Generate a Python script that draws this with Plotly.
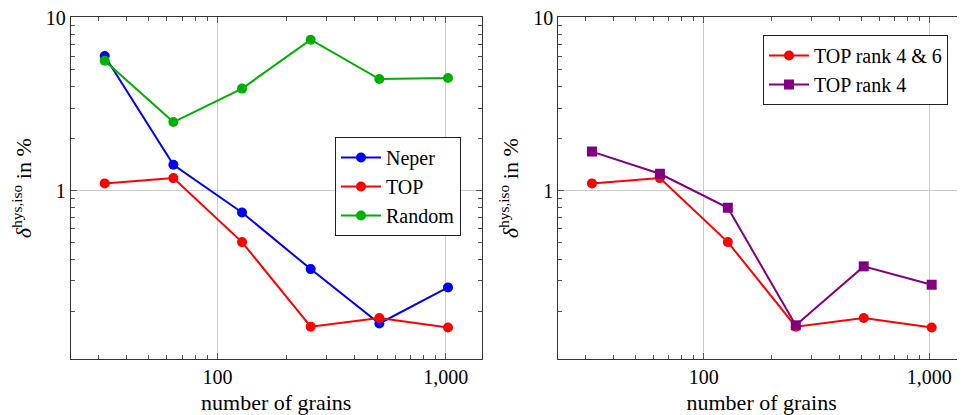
import plotly.graph_objects as go

grains = [32, 64, 128, 256, 512, 1024]
neper = [6.0, 1.41, 0.746, 0.351, 0.170, 0.275]
top = [1.10, 1.18, 0.503, 0.163, 0.183, 0.161]
random_ = [5.64, 2.49, 3.89, 7.46, 4.42, 4.48]
top_rank46 = [1.10, 1.18, 0.503, 0.163, 0.183, 0.161]
top_rank4 = [1.68, 1.25, 0.794, 0.166, 0.364, 0.285]

x_tickvals = [100, 1000]
x_ticktext = ["100", "1,000"]
x_minor = [20, 30, 40, 50, 60, 70, 80, 90, 200, 300, 400, 500, 600, 700, 800, 900, 2000]
y_tickvals = [1, 10]
y_ticktext = ["1", "10"]
y_minor = [0.2, 0.3, 0.4, 0.5, 0.6, 0.7, 0.8, 0.9, 2, 3, 4, 5, 6, 7, 8, 9]

FONT = "Liberation Serif"
FS = 20
OFF = 8  # default page margin around the figure
W, H = 965 - OFF, 415 - OFF
XR = [1.356, 3.158]
YR = [-0.975, 1.002]

def px_x(p):
    return (p - OFF) / W

def px_y(p):
    return 1 - (p - OFF) / H

XD1 = [px_x(70.7), px_x(481.7)]
XD2 = [px_x(558.3), 1.0]
YD = [px_y(359), px_y(17.4)]

fig = go.Figure()

def add(x, y, name, color, symbol, xa, ya, legend):
    fig.add_trace(go.Scatter(
        x=x, y=y, name=name, mode="lines+markers",
        line=dict(color=color, width=2),
        marker=dict(color=color, size=10, symbol=symbol),
        xaxis=xa, yaxis=ya, legend=legend))

add(grains, neper, "Neper", "#0000ff", "circle", "x", "y", "legend")
add(grains, top, "TOP", "#ff0000", "circle", "x", "y", "legend")
add(grains, random_, "Random", "#00b000", "circle", "x", "y", "legend")
add(grains, top_rank46, "TOP rank 4 &amp; 6", "#ff0000", "circle", "x2", "y2", "legend2")
add(grains, top_rank4, "TOP rank 4", "#800080", "square", "x2", "y2", "legend2")

tf = dict(family=FONT, size=FS, color="black")
ttf = dict(family=FONT, size=22, color="black")

def xaxis(domain, anchor):
    return dict(
        type="log", domain=domain, anchor=anchor, range=XR, automargin=False,
        tickmode="array", tickvals=x_tickvals, ticktext=x_ticktext,
        ticklabeloverflow="allow",
        ticks="inside", ticklen=6, tickcolor="#555",
        showline=True, linecolor="#333", linewidth=1, mirror="ticks",
        showgrid=True, gridcolor="#cccccc", gridwidth=1, zeroline=False,
        tickfont=tf,
        title=dict(text="number of grains", standoff=12, font=ttf),
    )

def yaxis(anchor):
    return dict(
        type="log", domain=YD, anchor=anchor, range=YR, automargin=False,
        tickmode="array", tickvals=y_tickvals, ticktext=y_ticktext,
        ticklabeloverflow="allow",
        ticks="inside", ticklen=6, tickcolor="#555",
        showline=True, linecolor="#333", linewidth=1, mirror="ticks",
        showgrid=True, gridcolor="#cccccc", gridwidth=1, zeroline=False,
        tickfont=tf,
        title=dict(text="<i>δ</i><sup>hys,iso</sup> in %", standoff=8, font=ttf),
    )

def xminor(domain, anchor, over):
    return dict(
        type="log", domain=domain, anchor=anchor, range=XR, overlaying=over,
        automargin=False, tickmode="array", tickvals=x_minor,
        showticklabels=False, ticks="inside", ticklen=4, tickcolor="#555",
        showline=True, linecolor="#333", linewidth=1, mirror="ticks",
        showgrid=False, zeroline=False,
    )

def yminor(anchor, over):
    return dict(
        type="log", domain=YD, anchor=anchor, range=YR, overlaying=over,
        automargin=False, tickmode="array", tickvals=y_minor,
        showticklabels=False, ticks="inside", ticklen=4, tickcolor="#555",
        showline=True, linecolor="#333", linewidth=1, mirror="ticks",
        showgrid=False, zeroline=False,
    )

for xa, ya in (("x3", "y3"), ("x4", "y4")):
    fig.add_trace(go.Scatter(x=[grains[0]], y=[top[0]], xaxis=xa, yaxis=ya,
                             mode="markers", marker=dict(opacity=0),
                             showlegend=False, hoverinfo="skip"))

legend_common = dict(
    bgcolor="white", bordercolor="#222", borderwidth=1,
    font=dict(family=FONT, size=20, color="black"), itemwidth=40, tracegroupgap=0,
)

fig.update_layout(
    width=W, height=H,
    margin=dict(l=0, r=0, t=0, b=0, autoexpand=False),
    paper_bgcolor="white", plot_bgcolor="white",
    showlegend=True,
    xaxis=xaxis(XD1, "y"),
    yaxis=yaxis("x"),
    xaxis2=xaxis(XD2, "y2"),
    yaxis2=yaxis("x2"),
    xaxis3=xminor(XD1, "y3", "x"),
    yaxis3=yminor("x3", "y"),
    xaxis4=xminor(XD2, "y4", "x2"),
    yaxis4=yminor("x4", "y2"),
    legend=dict(x=px_x(461), xanchor="right", y=px_y(137), yanchor="top", **legend_common),
    legend2=dict(x=px_x(948), xanchor="right", y=px_y(35), yanchor="top", **legend_common),
)

fig.write_html("out.html")
